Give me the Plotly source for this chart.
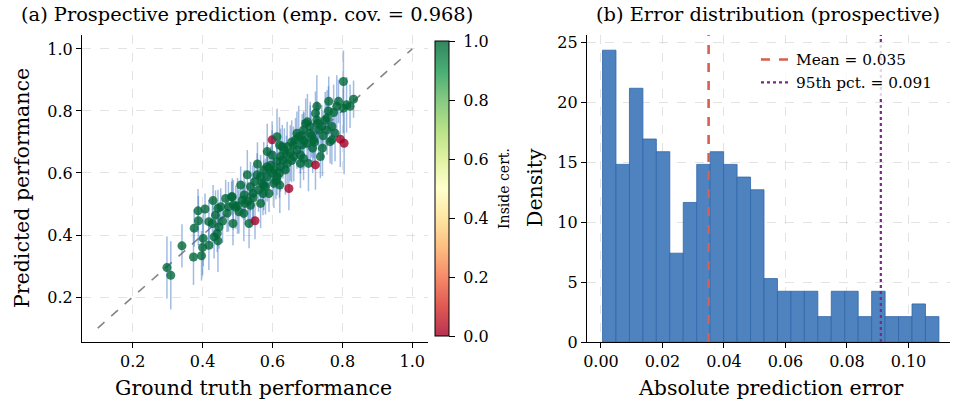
import numpy as np
import plotly.graph_objects as go

# ---------------- data ----------------
gt = [0.298,0.309,0.341,0.374,0.397,0.376,0.387,0.407,0.388,0.402,
      0.400,0.418,0.433,0.444,0.442,0.418,0.430,0.444,0.437,0.457,
      0.466,0.483,0.474,0.487,0.500,0.509,0.519,0.522,0.518,0.533,
      0.537,0.528,0.549,0.544,0.557,0.566,0.550,0.573,0.571,0.585,
      0.585,0.599,0.599,0.613,0.585,0.604,0.623,0.634,0.621,0.613,
      0.647,0.637,0.630,0.651,0.666,0.675,0.670,0.680,0.689,0.703,
      0.685,0.699,0.708,0.718,0.723,0.737,0.743,0.732,0.727,0.727,
      0.723,0.756,0.761,0.770,0.779,0.784,0.789,0.770,0.765,0.794,
      0.805,0.803,0.803,0.822,0.832,0.756,0.751,0.741,0.708,0.689,
      0.670,0.680,0.661,0.566,0.580,0.590,0.604,0.642,0.623,0.613,
      0.642,0.628,0.590,0.575,0.556,0.537,0.514,0.504,0.488,0.485,
      0.447,0.428,0.452,0.690,0.712,0.695,0.660,0.655,0.745,0.720,
      0.600,0.610,0.575,0.560,0.595,0.620,0.700,0.730,0.760,0.775,
      0.640,0.655,0.715,0.685,0.530,0.545,0.495,0.470,0.620,0.812]
pred = [0.295,0.270,0.365,0.329,0.333,0.422,0.478,0.484,0.446,0.389,
        0.360,0.367,0.394,0.381,0.405,0.443,0.511,0.486,0.464,0.445,
        0.518,0.523,0.491,0.437,0.494,0.561,0.529,0.502,0.470,0.437,
        0.496,0.594,0.572,0.534,0.629,0.502,0.446,0.534,0.567,0.588,
        0.669,0.658,0.707,0.717,0.620,0.610,0.620,0.674,0.561,0.588,
        0.550,0.610,0.642,0.664,0.707,0.717,0.674,0.631,0.647,0.631,
        0.691,0.696,0.728,0.707,0.626,0.653,0.680,0.739,0.771,0.815,
        0.793,0.777,0.831,0.750,0.728,0.815,0.831,0.707,0.701,0.709,
        0.696,0.895,0.809,0.815,0.838,0.739,0.771,0.750,0.750,0.739,
        0.728,0.658,0.653,0.588,0.556,0.534,0.567,0.631,0.653,0.637,
        0.685,0.685,0.615,0.610,0.594,0.556,0.513,0.475,0.497,0.523,
        0.426,0.437,0.491,0.705,0.720,0.760,0.690,0.700,0.720,0.700,
        0.600,0.575,0.560,0.545,0.625,0.600,0.765,0.760,0.800,0.795,
        0.660,0.640,0.680,0.720,0.510,0.520,0.490,0.470,0.690,0.820]
err = [0.10,0.11,0.07,0.09,0.08,0.06,0.07,0.05,0.08,0.09,
       0.09,0.08,0.07,0.10,0.06,0.07,0.05,0.06,0.08,0.07,
       0.06,0.05,0.08,0.07,0.09,0.06,0.08,0.07,0.09,0.08,
       0.07,0.08,0.06,0.09,0.07,0.08,0.06,0.07,0.06,0.08,
       0.09,0.08,0.06,0.09,0.07,0.06,0.08,0.07,0.09,0.06,
       0.07,0.08,0.06,0.09,0.07,0.10,0.06,0.08,0.07,0.09,
       0.08,0.07,0.09,0.06,0.08,0.07,0.09,0.08,0.06,0.10,
       0.07,0.09,0.08,0.06,0.09,0.10,0.07,0.08,0.07,0.09,
       0.10,0.10,0.08,0.07,0.06,0.08,0.09,0.07,0.08,0.06,
       0.07,0.06,0.08,0.07,0.09,0.06,0.08,0.07,0.09,0.06,
       0.08,0.07,0.06,0.09,0.07,0.08,0.06,0.07,0.08,0.06,
       0.07,0.08,0.06,0.09,0.07,0.08,0.06,0.07,0.08,0.07,
       0.07,0.06,0.08,0.07,0.06,0.08,0.09,0.07,0.08,0.09,
       0.06,0.07,0.08,0.07,0.06,0.08,0.07,0.06,0.09,0.09]
inside = [1,1,1,1,1,1,1,1,1,1,
          1,1,1,1,1,1,1,1,1,1,
          1,1,1,1,1,1,1,1,1,1,
          1,1,1,1,1,1,0,1,1,1,
          1,1,0,1,1,1,1,1,1,1,
          0,1,1,1,1,1,1,1,1,1,
          1,1,1,1,0,1,1,1,1,1,
          1,1,1,1,1,1,1,1,1,0,
          0,1,1,1,1,1,1,1,1,1,
          1,1,1,1,1,1,1,1,1,1,
          1,1,1,1,1,1,1,1,1,1,
          1,1,1,1,1,1,1,1,1,1,
          1,1,1,1,1,1,1,1,1,1,
          1,1,1,1,1,1,1,1,1,1]

# histogram of absolute errors (counts per bin)
hist_counts = [23,14,20,16,15,7,11,14,15,14,13,12,5,4,4,4,2,4,4,2,4,2,2,3,2]
hist_lo = 0.0005
hist_hi = 0.1099
mean_err = 0.035
p95_err = 0.091
emp_cov = 0.968

diag = [0.1, 1.0]
cbar_ticks = [0.0, 0.2, 0.4, 0.6, 0.8, 1.0]

# ---------------- derived ----------------
edges = np.linspace(hist_lo, hist_hi, len(hist_counts) + 1)
width = edges[1] - edges[0]
centers = (edges[:-1] + edges[1:]) / 2
n_total = sum(hist_counts)
density = [c / (n_total * width) for c in hist_counts]

FONT = "DejaVu Serif"
rdylgn = [[0.0, 'rgb(165,0,38)'], [0.1, 'rgb(215,48,39)'], [0.2, 'rgb(244,109,67)'],
          [0.3, 'rgb(253,174,97)'], [0.4, 'rgb(254,224,139)'], [0.5, 'rgb(255,255,191)'],
          [0.6, 'rgb(217,239,139)'], [0.7, 'rgb(166,217,106)'], [0.8, 'rgb(102,189,99)'],
          [0.9, 'rgb(26,152,80)'], [1.0, 'rgb(0,104,55)']]


def fade(rgb, a=0.8):
    vals = [int(v) for v in rgb[4:-1].split(',')]
    return 'rgb(%d,%d,%d)' % tuple(round(a * v + (1 - a) * 255) for v in vals)


rdylgn_faded = [[p, fade(c)] for p, c in rdylgn]

W, H = 955, 405


def fx(px):
    return px / W


def fy(py):
    return 1 - py / H


TICK = 16
LABEL = 20.5
TITLE = 19.4
NB = '\u00a0'

fig = go.Figure()

# diagonal
fig.add_trace(go.Scatter(x=diag, y=diag, mode='lines', xaxis='x', yaxis='y',
                         line=dict(color='rgba(110,110,110,0.85)', width=1.6, dash='dash'),
                         showlegend=False, hoverinfo='skip'))
# error bars
fig.add_trace(go.Scatter(x=gt, y=pred, mode='markers', xaxis='x', yaxis='y',
                         marker=dict(size=1, opacity=0),
                         error_y=dict(type='data', array=err, visible=True, width=0,
                                      thickness=1.5, color='rgba(60,115,195,0.48)'),
                         showlegend=False, hoverinfo='skip'))
# points
fig.add_trace(go.Scatter(x=gt, y=pred, mode='markers', xaxis='x', yaxis='y',
                         marker=dict(size=9, color=inside, colorscale=rdylgn, cmin=0, cmax=1,
                                     opacity=0.8, line=dict(width=0), showscale=False),
                         showlegend=False))
# colorbar carrier
fig.add_trace(go.Scatter(x=[None], y=[None], mode='markers', xaxis='x', yaxis='y',
                         marker=dict(size=0.1, color=[0.5], colorscale=rdylgn_faded, cmin=0, cmax=1,
                                     showscale=True,
                                     colorbar=dict(x=fx(435), xanchor='left', y=fy(188.5),
                                                   yanchor='middle', len=295, lenmode='pixels',
                                                   thickness=14, outlinecolor='black', outlinewidth=1,
                                                   xpad=0, ypad=0,
                                                   tickvals=cbar_ticks,
                                                   ticktext=[NB + '%.1f' % t + NB for t in cbar_ticks],
                                                   ticks='outside', ticklen=6, tickcolor='black',
                                                   tickfont=dict(family=FONT, size=TICK, color='black'),
                                                   title=dict(text='Inside cert.', side='right',
                                                              font=dict(family=FONT, size=14, color='black')))),
                         showlegend=False, hoverinfo='skip'))

# histogram
fig.add_trace(go.Bar(x=centers, y=density, width=width, xaxis='x2', yaxis='y2',
                     marker=dict(color='#4f83bf', line=dict(color='#2e66aa', width=0.8)),
                     showlegend=False))
fig.add_trace(go.Scatter(x=[mean_err, mean_err], y=[0, 25.6], mode='lines', xaxis='x2', yaxis='y2',
                         line=dict(color='#d6604d', width=2.6, dash='dash'),
                         name='Mean = %.3f' % mean_err))
fig.add_trace(go.Scatter(x=[p95_err, p95_err], y=[0, 25.6], mode='lines', xaxis='x2', yaxis='y2',
                         line=dict(color='#762a83', width=2.2, dash='dot'),
                         name='95th pct. = %.3f' % p95_err))

axis_common = dict(showline=True, linecolor='black', linewidth=1.25, ticks='outside', ticklen=5,
                   tickwidth=1, tickcolor='black', showgrid=True, gridcolor='rgba(200,200,200,0.5)',
                   griddash='dash', gridwidth=1, zeroline=False, mirror=False, automargin=False,
                   tickfont=dict(family=FONT, size=TICK, color='black'))

ann_common = dict(xref='paper', yref='paper', showarrow=False, xanchor='center', yanchor='middle')

fig.update_layout(
    width=W, height=H, margin=dict(l=0, r=0, t=0, b=0, autoexpand=False),
    paper_bgcolor='white', plot_bgcolor='white',
    font=dict(family=FONT, color='black'),
    xaxis=dict(domain=[fx(82), fx(428)], range=[0.055, 1.045], tickvals=[0.2, 0.4, 0.6, 0.8, 1.0],
               tickformat='.1f', anchor='y', **axis_common),
    yaxis=dict(domain=[fy(342), fy(35)], range=[0.055, 1.045], tickvals=[0.2, 0.4, 0.6, 0.8, 1.0],
               tickformat='.1f', anchor='x', **axis_common),
    xaxis2=dict(domain=[fx(587), fx(950)], range=[-0.00455, 0.1135],
                tickvals=[0.0, 0.02, 0.04, 0.06, 0.08, 0.10], tickformat='.2f', anchor='y2', **axis_common),
    yaxis2=dict(domain=[fy(342), fy(35)], range=[0, 25.6], tickvals=[0, 5, 10, 15, 20, 25],
                anchor='x2', **axis_common),
    legend=dict(x=fx(756), y=fy(43), xanchor='left', yanchor='top',
                bgcolor='rgba(255,255,255,0.8)', borderwidth=0,
                font=dict(family=FONT, size=15.3, color='black')),
    showlegend=True,
    annotations=[
        dict(text='(a) Prospective prediction (emp. cov. = %.3f)' % emp_cov, x=fx(247), y=fy(15),
             font=dict(family=FONT, size=TITLE, color='black'), **ann_common),
        dict(text='(b) Error distribution (prospective)', x=fx(768), y=fy(15),
             font=dict(family=FONT, size=TITLE, color='black'), **ann_common),
        dict(text='Ground truth performance', x=fx(254), y=fy(388),
             font=dict(family=FONT, size=LABEL, color='black'), **ann_common),
        dict(text='Absolute prediction error', x=fx(771), y=fy(388),
             font=dict(family=FONT, size=LABEL, color='black'), **ann_common),
        dict(text='Predicted performance', x=fx(22), y=fy(188), textangle=-90,
             font=dict(family=FONT, size=LABEL, color='black'), **ann_common),
        dict(text='Density', x=fx(535), y=fy(188), textangle=-90,
             font=dict(family=FONT, size=LABEL, color='black'), **ann_common),
    ],
)

# remove the default page margin so the figure sits at the window's top-left corner
fig.write_html("out.html", config={'displayModeBar': False},
               post_script="document.body.style.margin='0';document.body.style.padding='0';")
